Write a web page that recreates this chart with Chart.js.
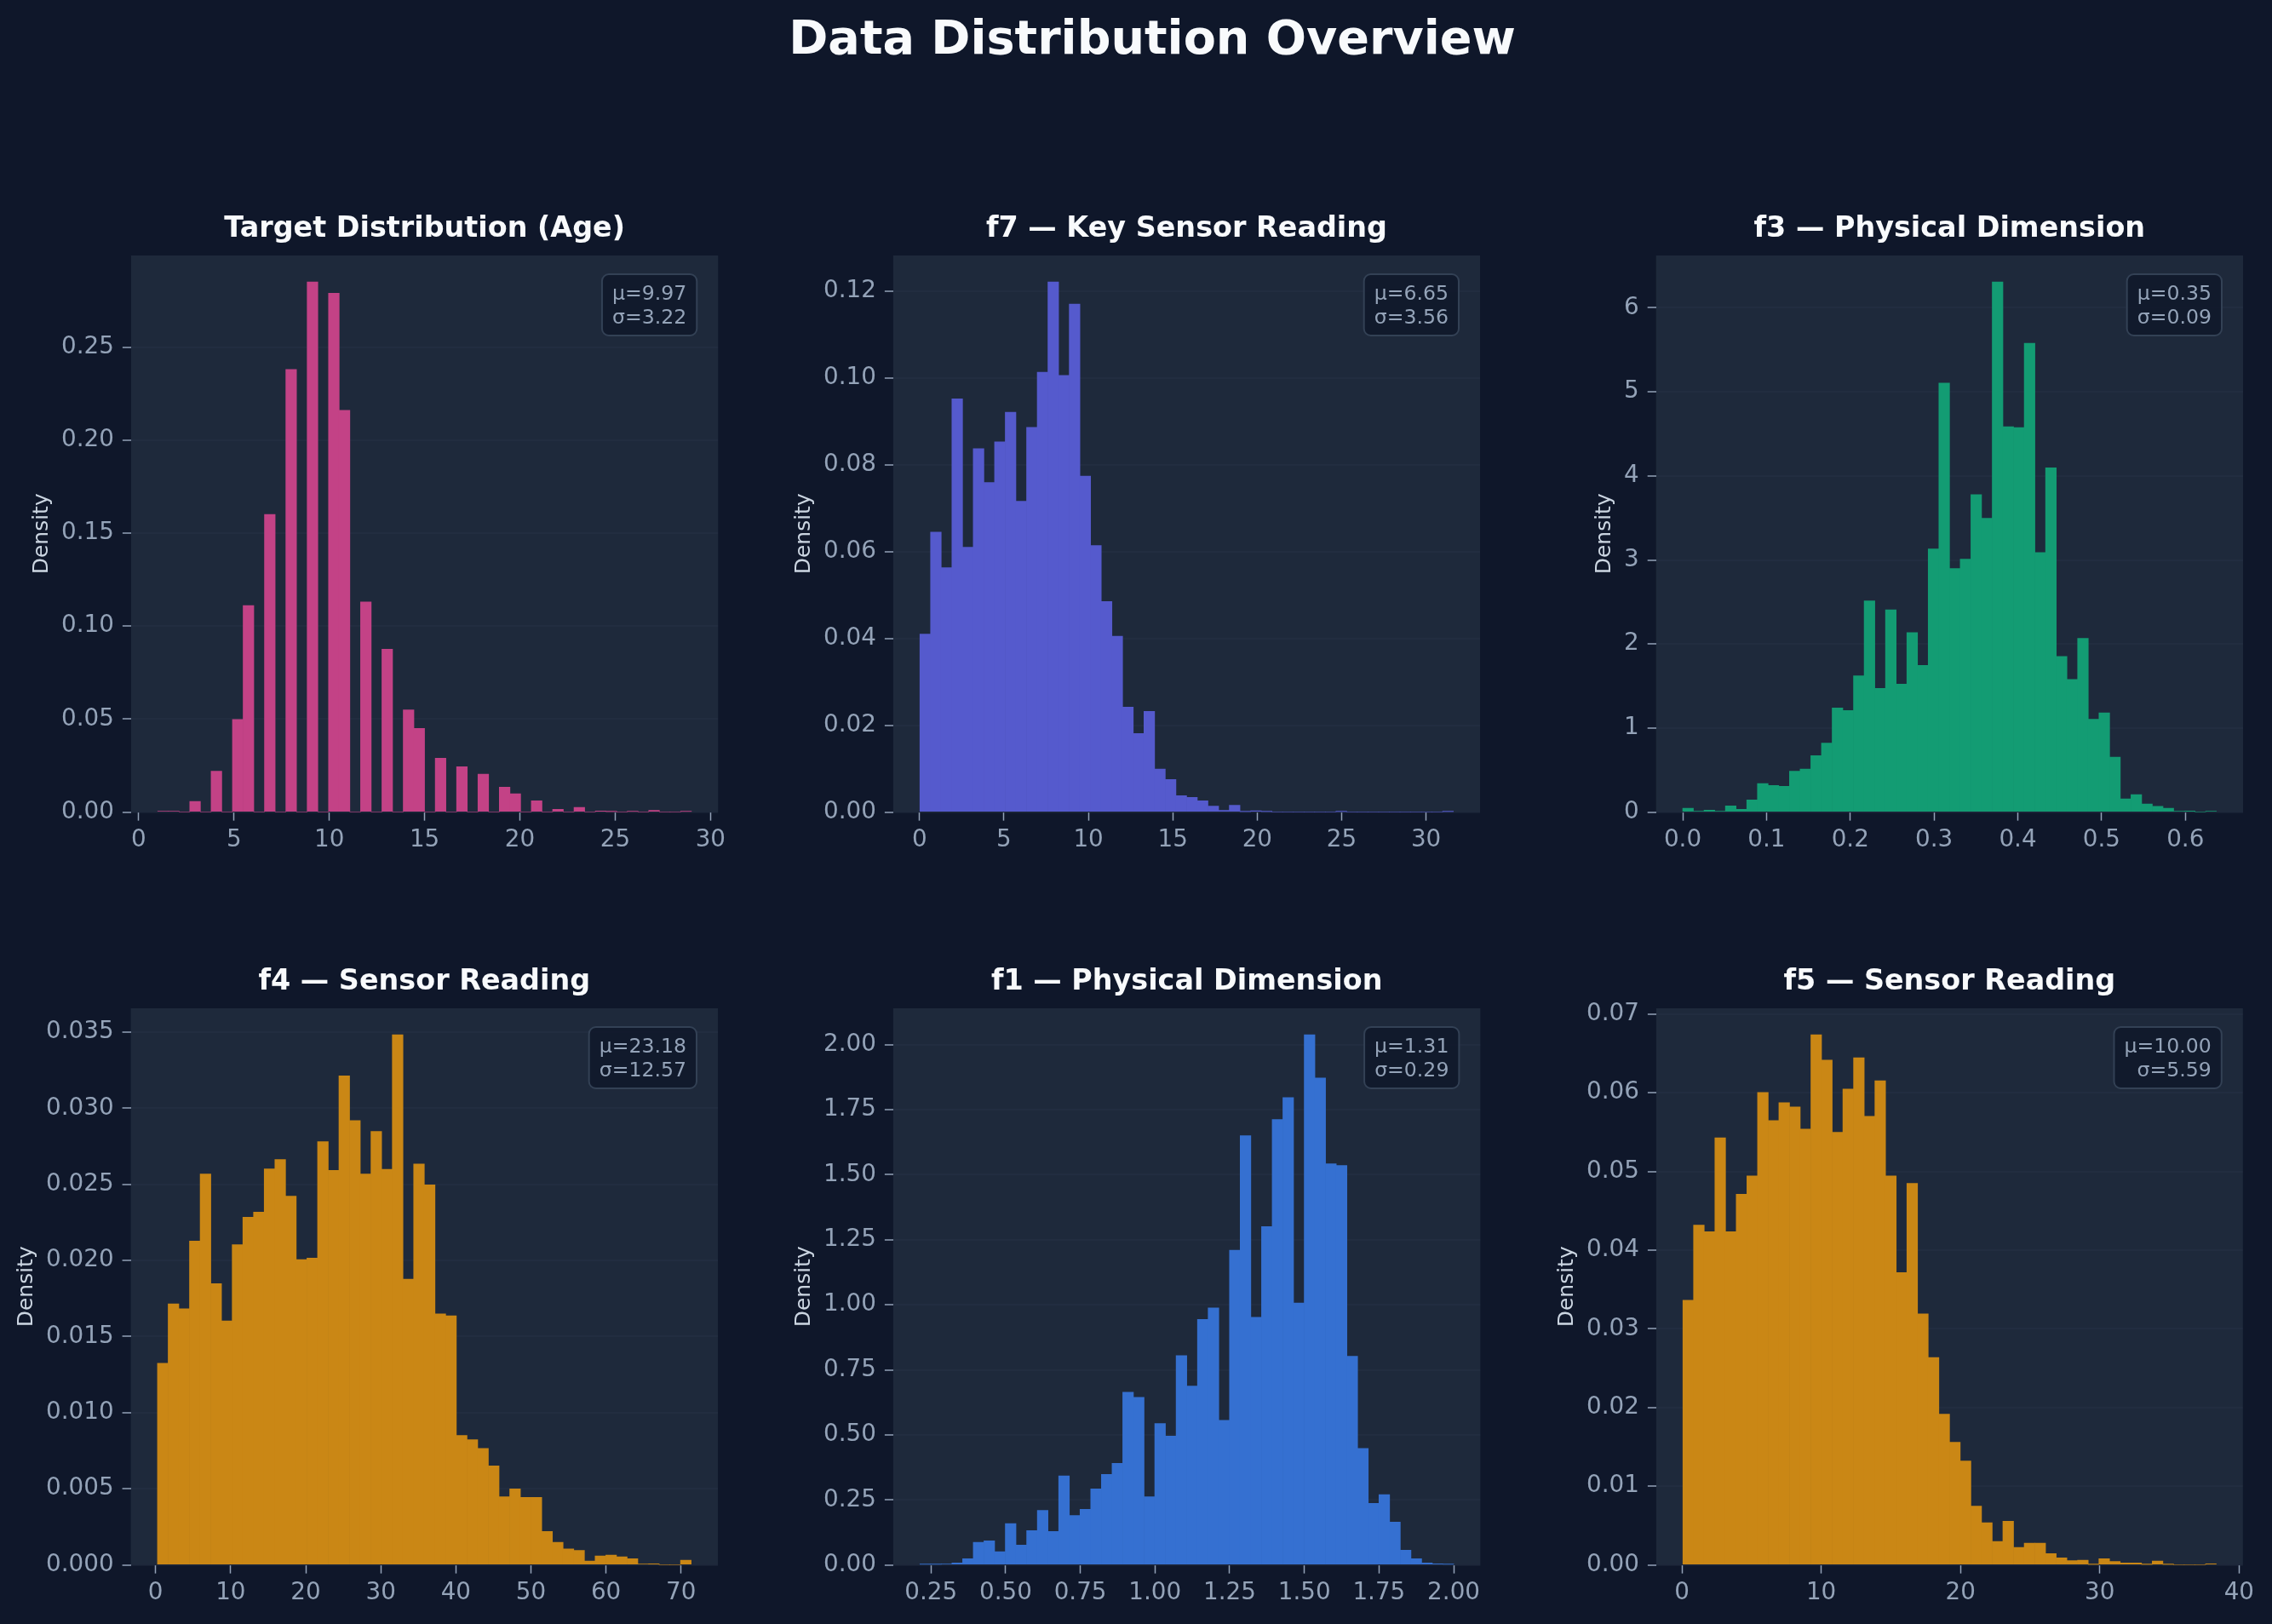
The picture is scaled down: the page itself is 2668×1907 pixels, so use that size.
<!DOCTYPE html>
<html>
<head>
<meta charset="utf-8">
<script src="https://cdn.jsdelivr.net/npm/chart.js@4.4.1/dist/chart.umd.min.js"></script>
<style>
  html, body { margin: 0; padding: 0; background: #0f172a; }
  body { width: 2668px; height: 1907px; position: relative; overflow: hidden; }
  #suptitle {
    position: absolute; left: 353px; width: 2000px; top: 16px;
    text-align: center; color: #f8fafc;
    font: bold 55.6px/1 'DejaVu Sans', sans-serif;
  }
  canvas { position: absolute; left: 0; top: 0; }
</style>
</head>
<body>
<div id="suptitle">Data Distribution Overview</div>
<canvas id="c0"></canvas>
<canvas id="c1"></canvas>
<canvas id="c2"></canvas>
<canvas id="c3"></canvas>
<canvas id="c4"></canvas>
<canvas id="c5"></canvas>
<script>
// ---- data: histogram ranges (first..last bin edge) and 50 bin densities each ----
const ageRange = [1, 29];
const ageDensity = [0.0005, 0.0005, 0, 0.0057, 0, 0.022, 0, 0.0498, 0.111, 0,
  0.160, 0, 0.238, 0, 0.285, 0, 0.279, 0.216, 0, 0.113,
  0, 0.0876, 0, 0.055, 0.045, 0, 0.029, 0, 0.0244, 0,
  0.0204, 0, 0.0134, 0.0099, 0, 0.0061, 0, 0.0015, 0, 0.0025,
  0, 0.0006, 0.0002, 0, 0.0003, 0, 0.001, 0, 0, 0.0003];

const f7Range = [0.02, 31.62];
const f7Density = [0.0410, 0.0645, 0.0563, 0.0952, 0.0610, 0.0837, 0.0759, 0.0853, 0.0921, 0.0716,
  0.0886, 0.1013, 0.1221, 0.1006, 0.1170, 0.0774, 0.0614, 0.0485, 0.0405, 0.0242,
  0.0181, 0.0232, 0.0099, 0.0075, 0.0038, 0.0034, 0.0026, 0.0014, 0.0004, 0.0016,
  0.0001, 0.0003, 0.0001, 0, 0, 0, 0, 0, 0, 0.0001,
  0, 0, 0, 0, 0, 0, 0, 0, 0, 0.0001];

const f3Range = [0.0, 0.637];
const f3Density = [0.046, 0.009, 0.023, 0.009, 0.074, 0.033, 0.144, 0.339, 0.316, 0.307,
  0.488, 0.511, 0.673, 0.822, 1.240, 1.208, 1.621, 2.513, 1.472, 2.406,
  1.523, 2.137, 1.746, 3.131, 5.105, 2.898, 3.010, 3.776, 3.497, 6.307,
  4.584, 4.575, 5.578, 3.089, 4.097, 1.853, 1.579, 2.067, 1.105, 1.180,
  0.655, 0.158, 0.209, 0.098, 0.070, 0.046, 0.009, 0.014, 0, 0.009];

const f4Range = [0.25, 71.35];
const f4Density = [0.01324, 0.01715, 0.01682, 0.02127, 0.02568, 0.01848, 0.01603, 0.02104, 0.02284, 0.02317,
  0.02601, 0.02663, 0.02422, 0.02005, 0.02015, 0.02780, 0.02591, 0.03213, 0.02919, 0.02568,
  0.02847, 0.02599, 0.03482, 0.01877, 0.02634, 0.02496, 0.01649, 0.01636, 0.00850, 0.00822,
  0.00765, 0.00650, 0.00448, 0.00499, 0.00443, 0.00443, 0.00220, 0.00148, 0.00105, 0.00095,
  0.00026, 0.00059, 0.00064, 0.00054, 0.00041, 0.00005, 0.00008, 0, 0, 0.00031];

const f1Range = [0.213, 2.0];
const f1Density = [0.002, 0.002, 0.003, 0.0075, 0.024, 0.087, 0.093, 0.051, 0.159, 0.076,
  0.132, 0.210, 0.129, 0.342, 0.190, 0.214, 0.292, 0.348, 0.391, 0.664,
  0.644, 0.262, 0.544, 0.495, 0.805, 0.688, 0.944, 0.988, 0.556, 1.210,
  1.650, 0.952, 1.301, 1.712, 1.797, 1.007, 2.038, 1.872, 1.542, 1.536,
  0.802, 0.448, 0.237, 0.270, 0.165, 0.057, 0.024, 0.0075, 0.0045, 0.002];

const f5Range = [0.07, 38.36];
const f5Density = [0.03363, 0.04319, 0.04235, 0.05428, 0.04235, 0.04710, 0.04943, 0.06003, 0.05646, 0.05874,
  0.05820, 0.05537, 0.06736, 0.06414, 0.05498, 0.06048, 0.06444, 0.05701, 0.06152, 0.04943,
  0.03715, 0.04849, 0.03190, 0.02635, 0.01917, 0.01560, 0.01322, 0.00748, 0.00535, 0.00297,
  0.00555, 0.00223, 0.00277, 0.00277, 0.00144, 0.00089, 0.00054, 0.00059, 0.00005, 0.00079,
  0.00045, 0.00025, 0.00025, 0.00005, 0.0005, 0.00005, 0, 0, 0, 0.00015];

// tick values
const ageXTicks = [0, 5, 10, 15, 20, 25, 30];
const ageYTicks = [0, 0.05, 0.10, 0.15, 0.20, 0.25];
const f7XTicks = [0, 5, 10, 15, 20, 25, 30];
const f7YTicks = [0, 0.02, 0.04, 0.06, 0.08, 0.10, 0.12];
const f3XTicks = [0, 0.1, 0.2, 0.3, 0.4, 0.5, 0.6];
const f3YTicks = [0, 1, 2, 3, 4, 5, 6];
const f4XTicks = [0, 10, 20, 30, 40, 50, 60, 70];
const f4YTicks = [0, 0.005, 0.010, 0.015, 0.020, 0.025, 0.030, 0.035];
const f1XTicks = [0.25, 0.5, 0.75, 1.0, 1.25, 1.5, 1.75, 2.0];
const f1YTicks = [0, 0.25, 0.5, 0.75, 1.0, 1.25, 1.5, 1.75, 2.0];
const f5XTicks = [0, 10, 20, 30, 40];
const f5YTicks = [0, 0.01, 0.02, 0.03, 0.04, 0.05, 0.06, 0.07];

// ---- layout ----
const PLOT_W = 689, PLOT_H = 654;
const FONT = "'DejaVu Sans', sans-serif";
Chart.defaults.font.family = FONT;

const panels = [
  { id: 'c0', title: 'Target Distribution (Age)', range: ageRange, density: ageDensity, color: '#c34286',
    xTicks: ageXTicks, yTicks: ageYTicks, xDec: 0, yDec: 2, stats: ['μ=9.97', 'σ=3.22'], left: 154, top: 300 },
  { id: 'c1', title: 'f7 — Key Sensor Reading', range: f7Range, density: f7Density, color: '#555acd',
    xTicks: f7XTicks, yTicks: f7YTicks, xDec: 0, yDec: 2, stats: ['μ=6.65', 'σ=3.56'], left: 1049, top: 300 },
  { id: 'c2', title: 'f3 — Physical Dimension', range: f3Range, density: f3Density, color: '#139c73',
    xTicks: f3XTicks, yTicks: f3YTicks, xDec: 1, yDec: 0, stats: ['μ=0.35', 'σ=0.09'], left: 1945, top: 300 },
  { id: 'c3', title: 'f4 — Sensor Reading', range: f4Range, density: f4Density, color: '#ca8715',
    xTicks: f4XTicks, yTicks: f4YTicks, xDec: 0, yDec: 3, stats: ['μ=23.18', 'σ=12.57'], left: 154, top: 1184 },
  { id: 'c4', title: 'f1 — Physical Dimension', range: f1Range, density: f1Density, color: '#3570d1',
    xTicks: f1XTicks, yTicks: f1YTicks, xDec: 2, yDec: 2, stats: ['μ=1.31', 'σ=0.29'], left: 1049, top: 1184 },
  { id: 'c5', title: 'f5 — Sensor Reading', range: f5Range, density: f5Density, color: '#ca8715',
    xTicks: f5XTicks, yTicks: f5YTicks, xDec: 0, yDec: 2, stats: ['μ=10.00', 'σ=5.59'], left: 1945, top: 1184 }
];

// axes background
const areaBg = {
  id: 'areaBg',
  beforeDraw(chart) {
    const { ctx, chartArea: a } = chart;
    ctx.save();
    ctx.fillStyle = '#1e293b';
    ctx.fillRect(a.left, a.top, a.right - a.left, a.bottom - a.top);
    ctx.restore();
  }
};

// subplot title centred over the plot area
const panelTitle = {
  id: 'panelTitle',
  afterDraw(chart, args, opts) {
    const { ctx, chartArea: a } = chart;
    ctx.save();
    ctx.font = 'bold 33.4px ' + FONT;
    ctx.fillStyle = '#f8fafc';
    ctx.textAlign = 'center';
    ctx.textBaseline = 'alphabetic';
    ctx.fillText(opts.text, (a.left + a.right) / 2, a.top - 22);
    ctx.restore();
  }
};

// mean / std box in the top right corner
const statsBox = {
  id: 'statsBox',
  afterDraw(chart, args, opts) {
    const { ctx, chartArea: a } = chart;
    ctx.save();
    ctx.font = '23.6px ' + FONT;
    const tw = Math.max(...opts.lines.map(t => ctx.measureText(t).width));
    const bw = tw + 24, bh = 72;
    const bx = a.right - 25 - bw, by = a.top + 22;
    ctx.beginPath();
    ctx.roundRect(bx, by, bw, bh, 8);
    ctx.fillStyle = 'rgba(15,23,42,0.85)';
    ctx.fill();
    ctx.lineWidth = 2;
    ctx.strokeStyle = '#334155';
    ctx.stroke();
    ctx.fillStyle = '#94a3b8';
    ctx.textAlign = 'right';
    ctx.textBaseline = 'alphabetic';
    opts.lines.forEach((t, i) => ctx.fillText(t, bx + bw - 12, by + 30 + i * 28));
    ctx.restore();
  }
};

function makeChart(p) {
  const canvas = document.getElementById(p.id);
  canvas.width = 900;
  canvas.height = 800;
  const span = p.range[1] - p.range[0];
  const binW = span / p.density.length;
  const pts = p.density.map((d, i) => ({ x: p.range[0] + (i + 0.5) * binW, y: d }));
  const ymax = Math.max(...p.density) * 1.05;
  const tickFont = { family: FONT, size: 27.8 };

  return new Chart(canvas, {
    type: 'bar',
    data: {
      datasets: [{
        data: pts,
        backgroundColor: p.color,
        borderWidth: 0,
        barPercentage: 1,
        categoryPercentage: 1
      }]
    },
    options: {
      responsive: false,
      maintainAspectRatio: false,
      animation: false,
      devicePixelRatio: 1,
      layout: { padding: { top: 60, left: 0, right: 0, bottom: 0 } },
      plugins: {
        legend: { display: false },
        tooltip: { enabled: false },
        panelTitle: { text: p.title },
        statsBox: { lines: p.stats }
      },
      scales: {
        x: {
          type: 'linear',
          offset: false,
          min: p.range[0] - 0.05 * span,
          max: p.range[1] + 0.05 * span,
          afterBuildTicks: s => { s.ticks = p.xTicks.map(v => ({ value: v })); },
          ticks: {
            color: '#94a3b8', font: tickFont, padding: 6, maxRotation: 0, autoSkip: false,
            callback: v => Number(v).toFixed(p.xDec)
          },
          grid: {
            display: true, offset: false, drawOnChartArea: false, drawTicks: true,
            tickLength: 10, tickColor: '#94a3b8', tickWidth: 1.5
          },
          border: { display: false }
        },
        y: {
          type: 'linear',
          min: 0,
          max: ymax,
          z: 1,
          afterBuildTicks: s => { s.ticks = p.yTicks.map(v => ({ value: v })); },
          ticks: {
            color: '#94a3b8', font: tickFont, padding: 10, autoSkip: false,
            callback: v => Number(v).toFixed(p.yDec)
          },
          grid: {
            display: true, drawOnChartArea: true, drawTicks: true,
            color: 'rgba(51,65,85,0.2)', lineWidth: 2,
            tickLength: 10, tickColor: '#94a3b8', tickWidth: 1.5
          },
          border: { display: false },
          title: {
            display: true, text: 'Density', color: '#cbd5e1',
            font: { family: FONT, size: 25, lineHeight: 1.0 }, padding: { top: 4, bottom: 0 }
          }
        }
      }
    },
    plugins: [areaBg, panelTitle, statsBox]
  });
}

panels.forEach(p => {
  const chart = makeChart(p);
  // size the canvas so the plot area matches the reference exactly
  for (let k = 0; k < 2; k++) {
    const a = chart.chartArea;
    const w = Math.round(chart.width + (PLOT_W - (a.right - a.left)));
    const h = Math.round(chart.height + (PLOT_H - (a.bottom - a.top)));
    chart.resize(w, h);
  }
  const a = chart.chartArea;
  chart.canvas.style.left = (p.left - a.left) + 'px';
  chart.canvas.style.top = (p.top - a.top) + 'px';
});
</script>
</body>
</html>
